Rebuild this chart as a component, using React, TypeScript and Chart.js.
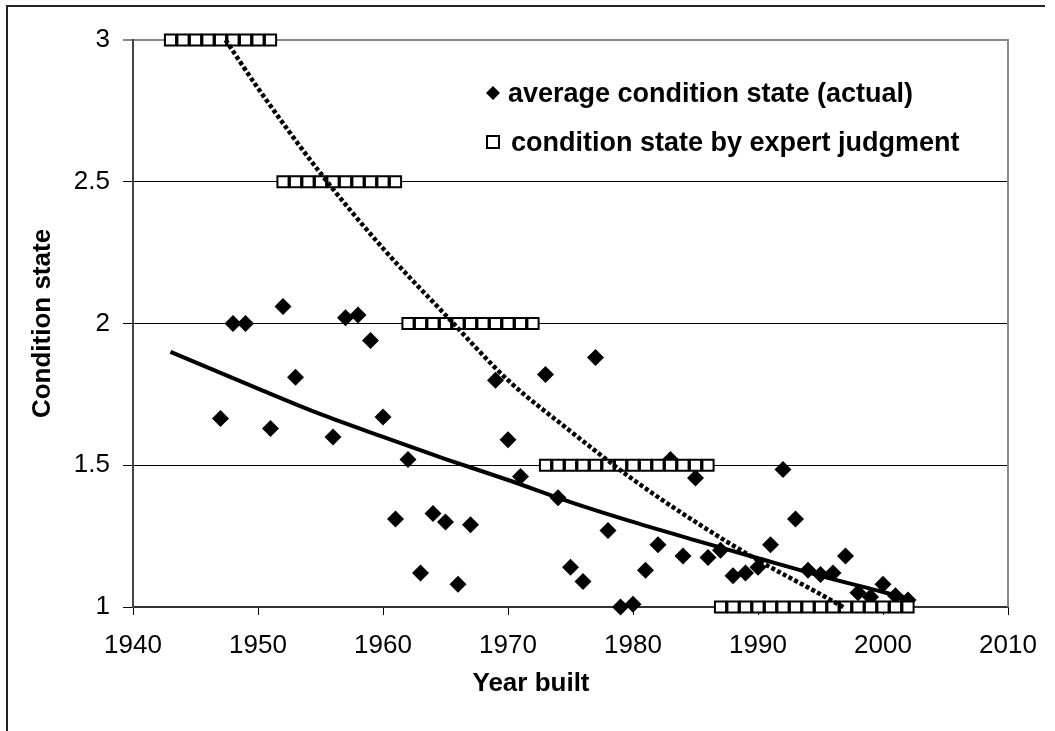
import React, { useEffect, useRef } from 'react';
import { Chart, registerables } from 'chart.js';

Chart.register(...registerables);

const FONT = '"Liberation Sans", Arial, Helvetica, sans-serif';

// average condition state (actual)
const actualYears = [
  1947, 1948, 1949, 1951, 1952, 1953, 1956, 1957, 1958, 1959, 1960, 1961, 1962,
  1963, 1964, 1965, 1966, 1967, 1969, 1970, 1971, 1973, 1974, 1975, 1976, 1977,
  1978, 1979, 1980, 1981, 1982, 1983, 1984, 1985, 1986, 1987, 1988, 1989, 1990,
  1991, 1992, 1993, 1994, 1995, 1996, 1997, 1998, 1999, 2000, 2001, 2002,
];
const actualValues = [
  1.665, 2.0, 2.0, 1.63, 2.06, 1.81, 1.6, 2.02, 2.03, 1.94, 1.67, 1.31, 1.52,
  1.12, 1.33, 1.3, 1.08, 1.29, 1.8, 1.59, 1.46, 1.82, 1.385, 1.14, 1.09, 1.88,
  1.27, 1.0, 1.01, 1.13, 1.22, 1.52, 1.18, 1.455, 1.175, 1.2, 1.11, 1.12, 1.14,
  1.22, 1.485, 1.31, 1.13, 1.115, 1.12, 1.18, 1.05, 1.035, 1.08, 1.04, 1.025,
];

// condition state by expert judgment
const expertYears = [
  1943, 1944, 1945, 1946, 1947, 1948, 1949, 1950, 1951,
  1952, 1953, 1954, 1955, 1956, 1957, 1958, 1959, 1960, 1961,
  1962, 1963, 1964, 1965, 1966, 1967, 1968, 1969, 1970, 1971, 1972,
  1973, 1974, 1975, 1976, 1977, 1978, 1979, 1980, 1981, 1982, 1983, 1984, 1985, 1986,
  1987, 1988, 1989, 1990, 1991, 1992, 1993, 1994, 1995, 1996, 1997, 1998, 1999, 2000, 2001, 2002,
];
const expertValues = [
  3, 3, 3, 3, 3, 3, 3, 3, 3,
  2.5, 2.5, 2.5, 2.5, 2.5, 2.5, 2.5, 2.5, 2.5, 2.5,
  2, 2, 2, 2, 2, 2, 2, 2, 2, 2, 2,
  1.5, 1.5, 1.5, 1.5, 1.5, 1.5, 1.5, 1.5, 1.5, 1.5, 1.5, 1.5, 1.5, 1.5,
  1, 1, 1, 1, 1, 1, 1, 1, 1, 1, 1, 1, 1, 1, 1, 1,
];

// trend line of the actual values (solid)
const actualTrendYears = [1943, 1950, 1955, 1960, 1965, 1970, 1975, 1980, 1985, 1990, 1995, 2000, 2002];
const actualTrendValues = [1.9, 1.77, 1.68, 1.6, 1.522, 1.448, 1.37, 1.3, 1.235, 1.172, 1.11, 1.053, 1.03];

// trend line of the expert judgment (dotted)
const expertTrendYears = [1947.4, 1950, 1955, 1960, 1965, 1970, 1975, 1980, 1985, 1990, 1995, 1997];
const expertTrendValues = [3.0, 2.83, 2.53, 2.265, 2.03, 1.8, 1.62, 1.45, 1.3, 1.165, 1.045, 0.995];

const legendLabels = ['average condition state (actual)', 'condition state by expert judgment'];
const xAxisTitle = 'Year built';
const yAxisTitle = 'Condition state';

const toPoints = (xs: number[], ys: number[]) => xs.map((x, i) => ({ x, y: ys[i] }));

export default function App() {
  const ref = useRef<HTMLCanvasElement | null>(null);

  useEffect(() => {
    document.body.style.margin = '0';
    const canvas = ref.current;
    if (!canvas) return;

    const decor = {
      id: 'decor',
      beforeDraw(chart: any) {
        const { ctx, width, height } = chart;
        ctx.save();
        ctx.fillStyle = '#fff';
        ctx.fillRect(0, 0, width, height);
        ctx.restore();
      },
      beforeDatasetsDraw(chart: any) {
        const { ctx, chartArea } = chart;
        ctx.save();
        ctx.strokeStyle = '#888';
        ctx.lineWidth = 2;
        ctx.beginPath();
        ctx.moveTo(chartArea.right, chartArea.top - 1);
        ctx.lineTo(chartArea.right, chartArea.bottom);
        ctx.stroke();
        ctx.restore();
      },
      afterDraw(chart: any) {
        const { ctx } = chart;
        ctx.save();
        // outer frame (top and left edges visible)
        ctx.strokeStyle = '#222';
        ctx.lineWidth = 2;
        ctx.beginPath();
        ctx.moveTo(7, 731);
        ctx.lineTo(7, 6);
        ctx.lineTo(1045, 6);
        ctx.stroke();

        // x axis title
        ctx.fillStyle = '#000';
        ctx.font = `bold 26px ${FONT}`;
        ctx.textAlign = 'center';
        ctx.textBaseline = 'middle';
        ctx.fillText(xAxisTitle, 531, 684);

        // legend
        ctx.textAlign = 'left';
        ctx.textBaseline = 'alphabetic';
        ctx.font = `bold 27px ${FONT}`;
        // diamond
        const dx = 493, dy = 93, r = 7;
        ctx.beginPath();
        ctx.moveTo(dx - r, dy);
        ctx.lineTo(dx, dy - r);
        ctx.lineTo(dx + r, dy);
        ctx.lineTo(dx, dy + r);
        ctx.closePath();
        ctx.fill();
        ctx.fillText(legendLabels[0], 508, 102);
        // square
        ctx.fillStyle = '#fff';
        ctx.fillRect(487, 136, 12, 12);
        ctx.strokeStyle = '#000';
        ctx.lineWidth = 2;
        ctx.strokeRect(487, 136, 12, 12);
        ctx.fillStyle = '#000';
        ctx.fillText(legendLabels[1], 511, 151);
        ctx.restore();
      },
    };

    const chart = new Chart(canvas, {
      type: 'scatter',
      data: {
        datasets: [
          {
            label: 'actual trend',
            type: 'line',
            data: toPoints(actualTrendYears, actualTrendValues),
            borderColor: '#000',
            backgroundColor: '#000',
            borderWidth: 4,
            pointRadius: 0,
            cubicInterpolationMode: 'monotone',
            fill: false,
            order: 0,
            clip: false,
          } as any,
          {
            label: 'expert trend',
            type: 'line',
            data: toPoints(expertTrendYears, expertTrendValues),
            borderColor: '#000',
            backgroundColor: '#000',
            borderWidth: 4.5,
            borderDash: [4, 2.5],
            pointRadius: 0,
            cubicInterpolationMode: 'monotone',
            fill: false,
            order: 0,
            clip: false,
          } as any,
          {
            label: legendLabels[1],
            data: toPoints(expertYears, expertValues),
            pointStyle: 'rect',
            pointRadius: 7.9,
            backgroundColor: '#fff',
            borderColor: '#000',
            borderWidth: 2,
            order: 1,
            clip: false,
          } as any,
          {
            label: legendLabels[0],
            data: toPoints(actualYears, actualValues),
            pointStyle: 'rectRot',
            pointRadius: 8.5,
            backgroundColor: '#000',
            borderColor: '#000',
            borderWidth: 0,
            order: 2,
            clip: false,
          } as any,
        ],
      },
      options: {
        responsive: false,
        animation: false,
        events: [],
        devicePixelRatio: 1,
        layout: { padding: { top: 40, right: 47, left: 0, bottom: 0 } },
        plugins: {
          legend: { display: false },
          tooltip: { enabled: false },
          title: { display: false },
        },
        scales: {
          x: {
            type: 'linear',
            min: 1940,
            max: 2010,
            ticks: {
              stepSize: 10,
              color: '#000',
              padding: 15,
              font: { family: FONT, size: 26 },
              callback: (v: any) => String(v),
            },
            grid: {
              drawOnChartArea: false,
              drawTicks: true,
              tickLength: 8,
              color: '#000',
              lineWidth: 1,
            },
            border: { display: true, color: '#333', width: 2 },
            afterFit: (s: any) => {
              s.height = 124;
            },
          },
          y: {
            type: 'linear',
            min: 1,
            max: 3,
            ticks: {
              stepSize: 0.5,
              color: '#000',
              padding: 13,
              font: { family: FONT, size: 26 },
              callback: (v: any) => String(v),
            },
            grid: {
              tickLength: 10,
              color: (c: any) => (c.tick && c.tick.value === 3 ? '#888' : '#000'),
              lineWidth: (c: any) => (c.tick && c.tick.value === 3 ? 2 : 1),
            },
            border: { display: true, color: '#444', width: 2 },
            title: {
              display: true,
              text: yAxisTitle,
              color: '#000',
              font: { family: FONT, size: 26, weight: 'bold' },
              padding: { top: 27.4, bottom: 0 },
            },
            afterFit: (s: any) => {
              s.width = 133;
            },
          },
        },
      } as any,
      plugins: [decor],
    });

    return () => chart.destroy();
  }, []);

  return <canvas ref={ref} width={1055} height={731} style={{ display: 'block' }} />;
}
